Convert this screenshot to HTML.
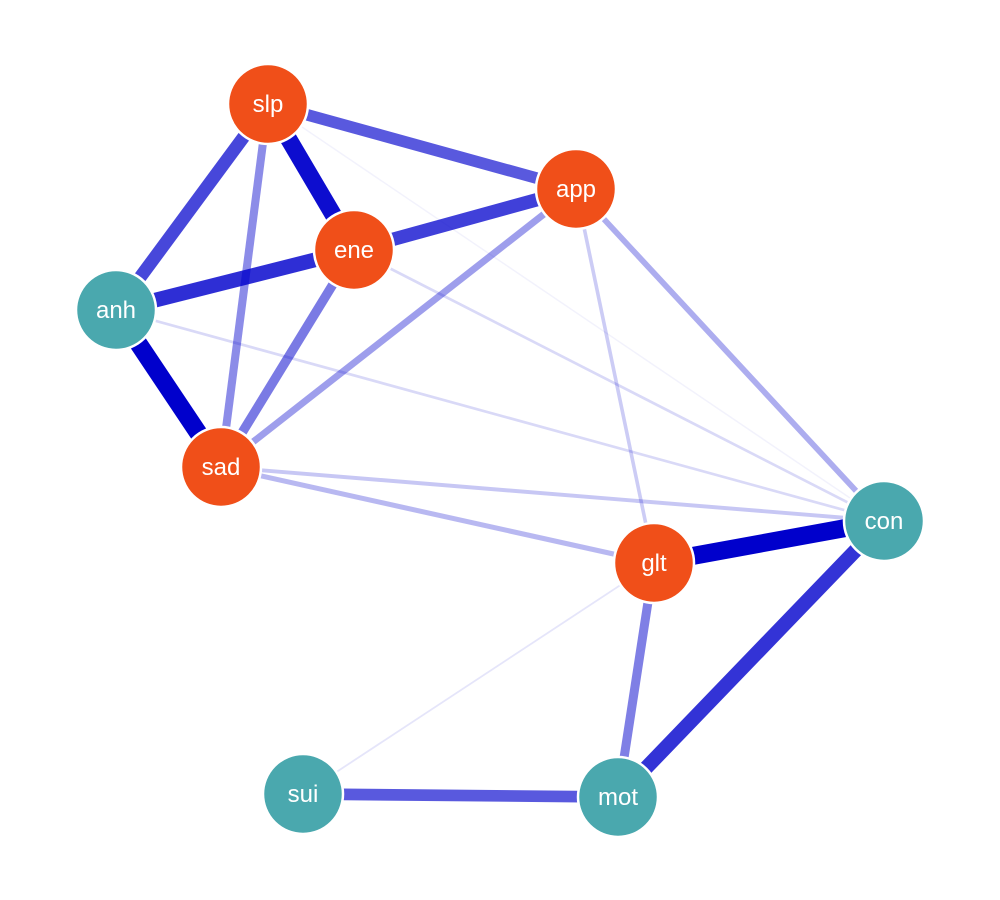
<!DOCTYPE html>
<html><head><meta charset="utf-8"><style>
body{margin:0;background:#fff}
svg{display:block}
text{font-family:"Liberation Sans",Arial,sans-serif;font-size:24px;fill:#fff}
</style></head><body>
<svg id="g" width="1000" height="900">
<g id="edges"></g>
<g id="nodes"></g>
</svg>
<script>
const nodeNames=["slp","app","ene","anh","sad","glt","con","sui","mot"];
const nodeX=[268,576,354,116,221,654,884,303,618];
const nodeY=[104,189,250,310,467,563,521,794,797];
const nodeGroup=[0,0,0,1,0,0,1,1,1];
const edgeFrom=["slp","slp","slp","slp","slp","ene","ene","ene","ene","anh","anh","app","app","app","sad","sad","glt","glt","glt","con","sui"];
const edgeTo=  ["app","ene","anh","sad","con","app","anh","sad","con","sad","con","sad","glt","con","con","glt","con","sui","mot","mot","mot"];
const edgeWeight=[0.65,0.95,0.72,0.45,0.05,0.75,0.82,0.52,0.15,1.0,0.15,0.38,0.2,0.32,0.22,0.28,1.0,0.1,0.5,0.8,0.65];
const ns="http://www.w3.org/2000/svg";
const E=document.getElementById('edges'),N=document.getElementById('nodes');
const idx=n=>nodeNames.indexOf(n);
edgeFrom.forEach((f,i)=>{
 const a=idx(f),b=idx(edgeTo[i]),w=edgeWeight[i];
 const l=document.createElementNS(ns,'line');
 l.setAttribute('x1',nodeX[a]);l.setAttribute('y1',nodeY[a]);
 l.setAttribute('x2',nodeX[b]);l.setAttribute('y2',nodeY[b]);
 l.setAttribute('stroke','rgb(0,0,204)');
 l.setAttribute('stroke-opacity',Math.max(0.04,w));
 l.setAttribute('stroke-width',Math.max(1.5,w*18));
 
 
 E.appendChild(l);
});
nodeNames.forEach((n,i)=>{
 const g=document.createElementNS(ns,'g');
 
 
 const c=document.createElementNS(ns,'circle');
 c.setAttribute('cx',nodeX[i]);c.setAttribute('cy',nodeY[i]);c.setAttribute('r',40);
 c.setAttribute('fill',nodeGroup[i]?'#4AA8AE':'#F04F19');
 c.setAttribute('stroke','#fff');c.setAttribute('stroke-width',2.5);
 const t=document.createElementNS(ns,'text');
 t.setAttribute('x',nodeX[i]);t.setAttribute('y',nodeY[i]+8);
 t.setAttribute('text-anchor','middle');
 t.textContent=n;
 
 
 g.appendChild(c);g.appendChild(t);N.appendChild(g);
});
</script>
</body></html>
